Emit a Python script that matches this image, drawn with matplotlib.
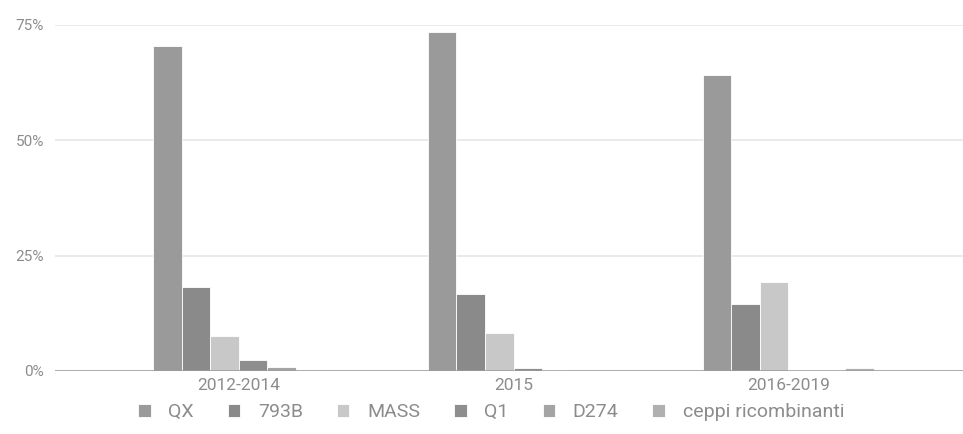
import matplotlib
matplotlib.use("Agg")
import matplotlib.pyplot as plt
import numpy as np

plt.rcParams['font.family'] = ['Roboto', 'DejaVu Sans']

categories = ["2012-2014", "2015", "2016-2019"]
series_names = ["QX", "793B", "MASS", "Q1", "D274", "ceppi ricombinanti"]
qx = [70.3, 73.4, 64.1]
b793 = [18.2, 16.7, 14.5]
mass = [7.6, 8.2, 19.3]
q1 = [2.4, 0.6, 0.2]
d274 = [0.9, 0.2, 0.3]
ceppi = [0.1, 0.1, 0.6]
series_values = [qx, b793, mass, q1, d274, ceppi]
colors = ["#9a9a9a", "#8a8a8a", "#c8c8c8", "#8e8e8e", "#a4a4a4", "#b0b0b0"]
yticks = [0, 25, 50, 75]
ytick_labels = ["0%", "25%", "50%", "75%"]

W, H = 963, 434
fig = plt.figure(figsize=(W / 100, H / 100), dpi=100)
ax = fig.add_axes([55 / W, (H - 371) / H, 1 - 55 / W, (371 - 24.5) / H])

x = np.arange(len(categories))
n = len(series_names)
bw = 0.104
for i, (name, vals, c) in enumerate(zip(series_names, series_values, colors)):
    offs = (i - (n - 1) / 2) * bw
    ax.bar(x + offs, vals, width=bw, color=c, edgecolor="white", linewidth=0.6, label=name, zorder=3)

ax.set_xlim(-0.669, 2.636)
ax.set_ylim(0, 75)
ax.set_yticks(yticks)
ax.set_yticklabels(ytick_labels)
ax.set_xticks(x)
ax.set_xticklabels(categories)
ax.tick_params(axis="both", length=0, labelcolor="#8c8c8c")
ax.tick_params(axis="y", pad=8, labelsize=11)
ax.tick_params(axis="x", pad=5, labelsize=12.5)
for s in ax.spines.values():
    s.set_visible(False)
ax.grid(axis="y", color="#e6e6e6", linewidth=1.2, zorder=0)
ax.axhline(0, color="#9a9a9a", linewidth=1.8, zorder=4)

leg = fig.legend(loc="center", bbox_to_anchor=(491 / W, (H - 412) / H), ncol=6, frameon=False,
                 fontsize=14, handlelength=0.65, handleheight=0.65, handletextpad=0.9,
                 columnspacing=1.75, labelcolor="#8c8c8c")

fig.savefig("out.png", dpi=100, facecolor="white")
